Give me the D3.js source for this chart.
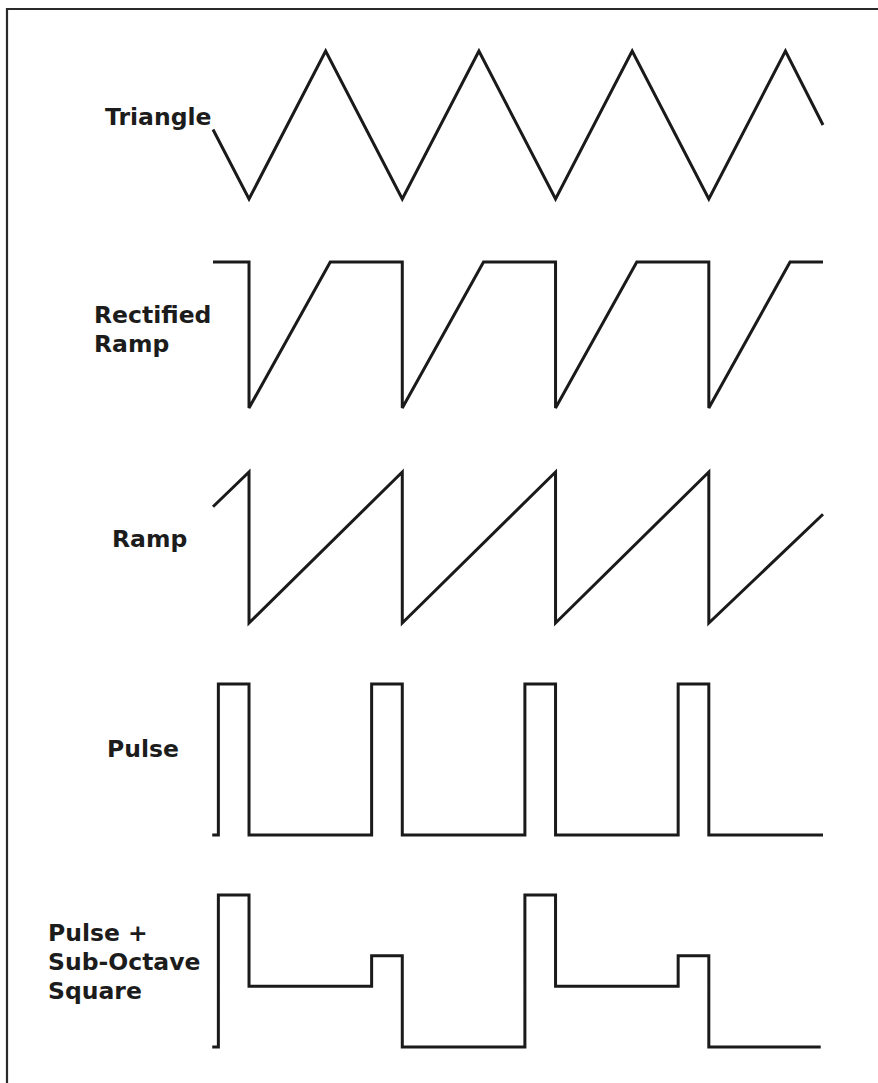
<!DOCTYPE html>
<html>
<head>
<meta charset="utf-8">
<script src="https://cdn.jsdelivr.net/npm/d3@7"></script>
<style>
  html, body { margin: 0; padding: 0; background: #fff; }
  svg { display: block; }
  .label { font-family: "DejaVu Sans", sans-serif; font-weight: bold; font-size: 23.5px; fill: #1c1c1c; }
</style>
</head>
<body>
<svg width="878" height="1083"></svg>
<script>
// time is in cycles, 0 = first falling edge; values are 0 (low) .. 1 (high)
const triangle = [[-0.235, 0.47], [0, 0], [0.5, 1], [1, 0], [1.5, 1], [2, 0], [2.5, 1], [3, 0], [3.5, 1], [3.745, 0.5]];
const rectifiedRamp = [[-0.235, 1], [0, 1], [0, 0], [0.53, 1], [1, 1], [1, 0], [1.53, 1], [2, 1], [2, 0], [2.53, 1], [3, 1], [3, 0], [3.53, 1], [3.745, 1]];
const ramp = [[-0.235, 0.77], [0, 1], [0, 0], [1, 1], [1, 0], [2, 1], [2, 0], [3, 1], [3, 0], [3.745, 0.72]];
const pulse = [[-0.24, 0], [-0.2, 0], [-0.2, 1], [0, 1], [0, 0], [0.8, 0], [0.8, 1], [1, 1], [1, 0], [1.8, 0], [1.8, 1], [2, 1], [2, 0], [2.8, 0], [2.8, 1], [3, 1], [3, 0], [3.745, 0]];
const pulseSubOctave = [[-0.24, 0], [-0.2, 0], [-0.2, 1], [0, 1], [0, 0.4], [0.8, 0.4], [0.8, 0.6], [1, 0.6], [1, 0], [1.8, 0], [1.8, 1], [2, 1], [2, 0.4], [2.8, 0.4], [2.8, 0.6], [3, 0.6], [3, 0], [3.73, 0]];

const labels = [["Triangle"], ["Rectified", "Ramp"], ["Ramp"], ["Pulse"], ["Pulse +", "Sub-Octave", "Square"]];
const waves = [triangle, rectifiedRamp, ramp, pulse, pulseSubOctave];

// layout: vertical pixel range of each trace and where its label sits
const layout = [
  { low: 199, high: 51,  lx: 105, ly: 125 },
  { low: 408, high: 262, lx: 94,  ly: 323 },
  { low: 623, high: 472, lx: 112, ly: 547 },
  { low: 835, high: 684, lx: 107, ly: 757 },
  { low: 1047, high: 895, lx: 48, ly: 941 }
];

const svg = d3.select("svg");
const x = d3.scaleLinear().domain([-0.235, 3.745]).range([213, 823]);

// frame (top and left edge of the scanned page)
svg.append("path")
  .attr("d", "M7,1083 L7,9 L878,9")
  .attr("fill", "none")
  .attr("stroke", "#2a2a2a")
  .attr("stroke-width", 2.2);

waves.forEach((wave, i) => {
  const lay = layout[i];
  const y = d3.scaleLinear().domain([0, 1]).range([lay.low, lay.high]);
  const line = d3.line()
    .x(d => x(d[0]))
    .y(d => y(d[1]));

  svg.append("path")
    .datum(wave)
    .attr("d", line)
    .attr("fill", "none")
    .attr("stroke", "#1a1a1a")
    .attr("stroke-width", 3)
    .attr("stroke-linejoin", "miter")
    .attr("stroke-miterlimit", 3);

  const text = svg.append("text")
    .attr("class", "label")
    .attr("x", lay.lx)
    .attr("y", lay.ly);
  labels[i].forEach((t, j) => {
    text.append("tspan")
      .attr("x", lay.lx)
      .attr("dy", j === 0 ? 0 : 29)
      .text(t);
  });
});
</script>
</body>
</html>
